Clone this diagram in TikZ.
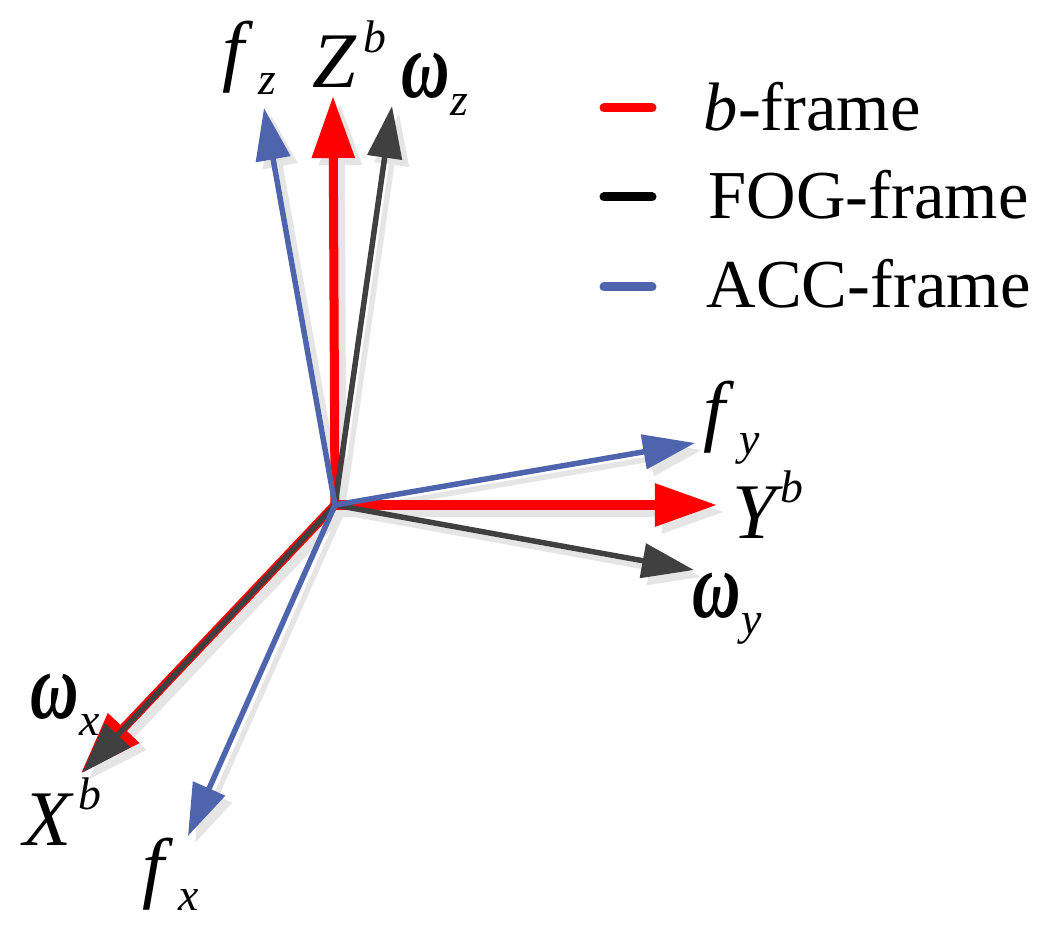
\documentclass[tikz,border=0pt]{standalone}
\usepackage{graphicx}
\usepackage{fontspec}
\setmainfont{Liberation Serif}
\usetikzlibrary{arrows.meta}
\definecolor{accblue}{RGB}{78,101,174}
\definecolor{fogblack}{RGB}{64,64,64}
\definecolor{shadowgray}{RGB}{229,229,229}
\tikzset{
	bframe/.style={line width=0.09cm,-{Triangle[length=0.62cm,width=0.41cm]}},
	sensor/.style={line width=0.055cm,-{Triangle[length=0.52cm,width=0.34cm]}},
	axislabel/.style={inner sep=0pt,anchor=base west,font=\fontsize{22.4}{24}\selectfont\itshape},
	legendtext/.style={inner sep=0pt,anchor=base west,font=\fontsize{19.5}{22}\selectfont},
	legendline/.style={line width=0.09cm,line cap=round}
}
\newcommand{\lowidx}[3]{#1\kern#2pt\raisebox{-5pt}{\fontsize{13}{13}\selectfont #3}}
\newcommand{\upidx}[3]{#1\kern#2pt\raisebox{10pt}{\fontsize{13}{13}\selectfont #3}}
\newcommand{\omg}{\scalebox{0.85}[1.2]{\bfseries ω}}
\begin{document}
\begin{tikzpicture}[x=0.01cm,y=-0.01cm]
	\useasboundingbox (0,0) rectangle (1052,934);
	\coordinate (O) at (335,505);
	\coordinate (fz) at (264,108);
	\coordinate (Zb) at (333,96);
	\coordinate (wz) at (392,106);
	\coordinate (fy) at (695,443);
	\coordinate (Yb) at (717,505);
	\coordinate (wy) at (694,570);
	\coordinate (wx) at (82,773);
	\coordinate (Xb) at (81,773);
	\coordinate (fx) at (188,836);
	% shadows
	\foreach \tip/\kind in {fz/sensor,Zb/bframe,wz/sensor,fy/sensor,Yb/bframe,wy/sensor,Xb/bframe,fx/sensor}
		\draw[\kind,color=shadowgray] ([shift={(7,7)}]O) -- ([shift={(7,7)}]\tip);
	% axes
	\draw[bframe,color=red] (O) -- (Zb);
	\draw[bframe,color=red] (O) -- (Yb);
	\draw[bframe,color=red] (O) -- (Xb);
	\draw[sensor,color=fogblack] (O) -- (wz);
	\draw[sensor,color=fogblack] (O) -- (wy);
	\draw[sensor,color=fogblack] (O) -- (wx);
	\draw[sensor,color=accblue] (O) -- (fz);
	\draw[sensor,color=accblue] (O) -- (fy);
	\draw[sensor,color=accblue] (O) -- (fx);
	% labels
	\node[axislabel] (lfz) at (222,77) {\lowidx{f}{4}{z}};
	\node[axislabel] (lZb) at (312,88) {\upidx{Z}{2}{b}};
	\node[axislabel] (lwz) at (401,98) {\lowidx{\omg}{0}{z}};
	\node[axislabel] (lfy) at (703,437) {\lowidx{f}{4}{y}};
	\node[axislabel] (lYb) at (732,538) {\upidx{Y}{1}{b}};
	\node[axislabel] (lwy) at (692,617) {\lowidx{\omg}{0}{y}};
	\node[axislabel] (lwx) at (30,718) {\lowidx{\omg}{0}{x}};
	\node[axislabel] (lXb) at (23,845) {\upidx{X}{2}{b}};
	\node[axislabel] (lfx) at (142,893) {\lowidx{f}{4}{x}};
	% legend
	\coordinate (a1) at (604,108);
	\coordinate (a2) at (652,108);
	\coordinate (b1) at (604,197);
	\coordinate (b2) at (652,197);
	\coordinate (c1) at (604,287);
	\coordinate (c2) at (652,287);
	\draw[legendline,color=red] (a1) -- (a2);
	\draw[legendline,color=black] (b1) -- (b2);
	\draw[legendline,color=accblue] (c1) -- (c2);
	\node[legendtext] (la) at (703,131) {\textit{b}-frame};
	\node[legendtext] (lb) at (708,219) {FOG-frame};
	\node[legendtext] (lc) at (706,308) {ACC-frame};
\end{tikzpicture}
\end{document}
